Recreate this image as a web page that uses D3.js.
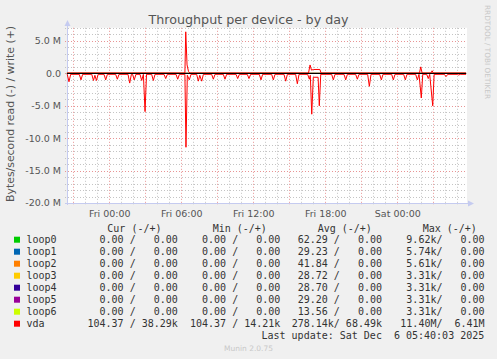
<!DOCTYPE html>
<html lang="en">
<meta charset="utf-8">
<style>
body { margin: 0; background: #f0f0f0; }
svg { display: block; font-family: "DejaVu Sans", sans-serif; }
.mono { font-family: "DejaVu Sans Mono", monospace; font-size: 10px; fill: #333; white-space: pre; }
.minor line { stroke: #c4c4c4; stroke-dasharray: 1,2; }
.major line { stroke: #e89494; stroke-dasharray: 1,2; }
</style>
<body>
<script src="https://d3js.org/d3.v7.min.js"></script>
<script>
// hours are counted from Fri 00:00, values in M (bytes/s)
var readSeries = [
  [-3.53,0.15],
  [-3.50,0.15],[-3.36,1.3],[-3.22,0.15],
  [-2.50,0.15],[-2.36,1.0],[-2.22,0.15],
  [-1.46,0.15],[-1.32,1.1],[-1.20,0.3],[-1.07,1.1],[-0.93,0.15],
  [-0.44,0.15],[-0.30,1.0],[-0.16,0.15],
  [0.53,0.15],[0.67,0.9],[0.81,0.15],
  [1.56,0.15],[1.70,1.5],[1.84,0.15],
  [1.94,0.15],[2.08,1.0],[2.22,0.15],
  [2.56,0.15],[2.70,1.1],[2.84,0.15],[2.98,5.9],[3.10,0.15],
  [3.53,0.15],[3.67,1.1],[3.81,0.15],
  [4.56,0.15],[4.70,0.8],[4.84,0.15],
  [5.56,0.15],[5.70,0.9],[5.84,0.15],
  [6.30,0.15],[6.39,11.4],[6.50,0.3],[6.67,1.0],[6.81,0.15],
  [7.28,0.15],[7.42,1.2],[7.54,0.3],[7.70,1.2],[7.84,0.15],
  [8.53,0.15],[8.67,0.9],[8.81,0.15],
  [9.50,0.15],[9.64,0.9],[9.78,0.15],
  [10.56,0.15],[10.70,0.8],[10.84,0.15],
  [11.50,0.15],[11.64,0.8],[11.78,0.15],
  [12.50,0.15],[12.64,1.0],[12.78,0.15],
  [13.53,0.15],[13.67,1.0],[13.81,0.15],
  [14.56,0.15],[14.70,1.2],[14.84,0.15],
  [15.53,0.15],[15.67,1.6],[15.81,0.15],
  [16.53,0.15],[16.67,0.9],[16.75,0.3],[16.87,6.3],[17.00,0.6],[17.40,0.6],[17.50,5.0],[17.62,0.15],
  [18.53,0.15],[18.67,1.0],[18.81,0.15],
  [19.56,0.15],[19.70,1.0],[19.84,0.15],
  [20.53,0.15],[20.67,0.9],[20.81,0.15],
  [21.53,0.15],[21.67,2.0],[21.81,0.15],
  [22.53,0.15],[22.67,1.0],[22.81,0.15],
  [23.53,0.15],[23.67,1.0],[23.81,0.15],
  [24.53,0.15],[24.67,1.0],[24.81,0.15],
  [25.53,0.15],[25.67,1.0],[25.81,0.15],[26.00,3.8],[26.12,0.15],
  [26.45,0.15],[26.58,0.8],[26.70,0.15],[26.95,5.0],[27.07,0.15],
  [27.92,0.15],[28.06,0.5],[28.20,0.15],
  [29.00,0.15],[29.12,0.25],[29.24,0.15],
  [29.73,0.15]
];
var writeSeries = [
  [-3.53,0.05],[6.30,0.05],[6.37,6.41],[6.48,1.3],[6.60,0.3],[6.72,0.05],
  [16.60,0.05],[16.73,1.3],[16.85,0.5],[17.00,0.6],[17.55,0.6],[17.65,0.05],
  [25.85,0.05],[25.95,1.0],[26.07,0.05],[26.80,0.05],[26.90,0.4],[27.00,0.05],
  [29.73,0.05]
];
var loopSeries = [[-3.53,0],[29.73,0]];

var devices = ["loop0","loop1","loop2","loop3","loop4","loop5","loop6","vda"];
var colors = ["#00cc00","#0066b3","#ff8000","#ffcc00","#330099","#990099","#ccff00","#ff0000"];
var curText = ["  0.00 /   0.00 ","  0.00 /   0.00 ","  0.00 /   0.00 ","  0.00 /   0.00 ","  0.00 /   0.00 ","  0.00 /   0.00 ","  0.00 /   0.00 ","104.37 / 38.29k"];
var minText = ["  0.00 /   0.00 ","  0.00 /   0.00 ","  0.00 /   0.00 ","  0.00 /   0.00 ","  0.00 /   0.00 ","  0.00 /   0.00 ","  0.00 /   0.00 ","104.37 / 14.21k"];
var avgText = [" 62.29 /   0.00 "," 29.23 /   0.00 "," 41.84 /   0.00 "," 28.72 /   0.00 "," 28.70 /   0.00 "," 29.20 /   0.00 "," 13.56 /   0.00 ","278.14k/ 68.49k"];
var maxText = ["  9.62k/   0.00 ","  5.74k/   0.00 ","  5.61k/   0.00 ","  3.31k/   0.00 ","  3.31k/   0.00 ","  3.31k/   0.00 ","  3.31k/   0.00 "," 11.40M/  6.41M"];

var yTicks = [5, 0, -5, -10, -15, -20];
var yTickLabels = ["5.0 M", "0.0", "-5.0 M", "-10.0 M", "-15.0 M", "-20.0 M"];
var xTicks = [0, 6, 12, 18, 24];
var xTickLabels = ["Fri 00:00", "Fri 06:00", "Fri 12:00", "Fri 18:00", "Sat 00:00"];

var W = 497, H = 359;
var plotL = 67, plotR = 467, plotT = 27.8, plotB = 203;

var x = d3.scaleLinear().domain([-3.525, 29.808]).range([plotL, plotR]);
var y = d3.scaleLinear().domain([-20, 7.03]).range([plotB, plotT]);

var svg = d3.select("body").append("svg")
    .attr("width", W).attr("height", H);

svg.append("rect")
    .attr("x", plotL).attr("y", plotT)
    .attr("width", plotR - plotL).attr("height", plotB - plotT)
    .attr("fill", "#fff");

// grid
var px = function(v) { return Math.round(v) + 0.5; };
var minorY = d3.range(-19, 8).filter(function(v) { return v % 5 !== 0; });
var majorY = [5, 0, -5, -10, -15];
var minorX = d3.range(-3, 30).filter(function(v) { return v % 3 !== 0; });
var majorX = d3.range(-3, 30, 3);

function hlines(cls, vals) {
  svg.append("g").attr("class", cls).selectAll("line").data(vals).enter().append("line")
    .attr("x1", plotL - 2).attr("x2", plotR)
    .attr("y1", function(d) { return px(y(d)); })
    .attr("y2", function(d) { return px(y(d)); });
}
function vlines(cls, vals) {
  svg.append("g").attr("class", cls).selectAll("line").data(vals).enter().append("line")
    .attr("y1", plotT).attr("y2", plotB + 2)
    .attr("x1", function(d) { return px(x(d)); })
    .attr("x2", function(d) { return px(x(d)); });
}
hlines("minor", minorY);
vlines("minor", minorX);
hlines("major", majorY);
vlines("major", majorX);

// axes
var axisCol = "#c5cbf0";
svg.append("line").attr("x1", px(plotL)).attr("x2", px(plotL))
    .attr("y1", plotB + 2).attr("y2", 24).attr("stroke", axisCol);
svg.append("path").attr("d", "M" + (px(plotL) - 3) + ",26L" + px(plotL) + ",20L" + (px(plotL) + 3) + ",26Z")
    .attr("fill", axisCol);
svg.append("line").attr("x1", plotL - 2).attr("x2", 470)
    .attr("y1", px(plotB)).attr("y2", px(plotB)).attr("stroke", axisCol);
svg.append("path").attr("d", "M468," + (px(plotB) - 3) + "L474," + px(plotB) + "L468," + (px(plotB) + 3) + "Z")
    .attr("fill", axisCol);

svg.append("g").selectAll("text").data(yTicks).enter().append("text")
    .attr("x", 61).attr("y", function(d) { return y(d) + 3.4; })
    .attr("text-anchor", "end")
    .style("font-size", "9.5px").attr("fill", "#555")
    .text(function(d, i) { return yTickLabels[i]; });

svg.append("g").selectAll("text").data(xTicks).enter().append("text")
    .attr("x", function(d) { return x(d) + 0.5; }).attr("y", 216.5)
    .attr("text-anchor", "middle")
    .style("font-size", "9.5px").attr("fill", "#555")
    .text(function(d, i) { return xTickLabels[i]; });

// lines
var line = d3.line()
    .x(function(d) { return x(d[0]); })
    .y(function(d) { return y(d[1]); });

devices.slice(0, 7).forEach(function(name, i) {
  svg.append("path").datum(loopSeries)
      .attr("d", line).attr("fill", "none")
      .attr("stroke", colors[i]).attr("stroke-width", 1);
});
svg.append("path")
    .datum(readSeries.map(function(d) { return [d[0], -d[1]]; }))
    .attr("d", line).attr("fill", "none")
    .attr("stroke", colors[7]).attr("stroke-width", 1);
svg.append("path").datum(writeSeries)
    .attr("d", line).attr("fill", "none")
    .attr("stroke", colors[7]).attr("stroke-width", 1);
svg.append("line")
    .attr("x1", x(loopSeries[0][0])).attr("x2", x(loopSeries[1][0]))
    .attr("y1", px(y(0))).attr("y2", px(y(0)))
    .attr("stroke", "#000").attr("stroke-width", 1);

// titles
svg.append("text").attr("x", 248.5).attr("y", 23.5)
    .attr("text-anchor", "middle").style("font-size", "12.7px").attr("fill", "#555")
    .text("Throughput per device - by day");

svg.append("text")
    .attr("transform", "translate(14,114) rotate(-90)")
    .attr("text-anchor", "middle").style("font-size", "10.9px").attr("fill", "#555")
    .text("Bytes/second read (-) / write (+)");

svg.append("text")
    .attr("transform", "translate(485,5) rotate(90)")
    .style("font-size", "7.3px").attr("fill", "#c8c8c8")
    .text("RRDTOOL / TOBI OETIKER");

// legend
var headers = [["Cur (-/+)", 107.3], ["Min (-/+)", 212.7], ["Avg (-/+)", 317.7], ["Max (-/+)", 422.7]];
headers.forEach(function(h) {
  svg.append("text").attr("class", "mono").attr("x", h[1]).attr("y", 231.8).text(h[0]);
});

var cols = [[curText, 87.5], [minText, 190], [avgText, 291.7], [maxText, 394.3]];
devices.forEach(function(name, i) {
  var cy = 239.7 + 12 * i;
  svg.append("rect").attr("x", 14).attr("y", cy - 3).attr("width", 6).attr("height", 6)
      .attr("fill", colors[i]);
  svg.append("text").attr("class", "mono").attr("x", 26.5).attr("y", cy + 3.6).text(name);
  cols.forEach(function(c) {
    svg.append("text").attr("class", "mono").attr("xml:space", "preserve")
        .attr("x", c[1]).attr("y", cy + 3.6).text(c[0][i]);
  });
});

svg.append("text").attr("class", "mono").attr("xml:space", "preserve")
    .attr("x", 261.5).attr("y", 338.6)
    .text("Last update: Sat Dec  6 05:40:03 2025");

svg.append("text").attr("x", 248.5).attr("y", 350.5)
    .attr("text-anchor", "middle").style("font-size", "7.5px").attr("fill", "#c8c8c8")
    .text("Munin 2.0.75");
</script>
</body>
</html>
